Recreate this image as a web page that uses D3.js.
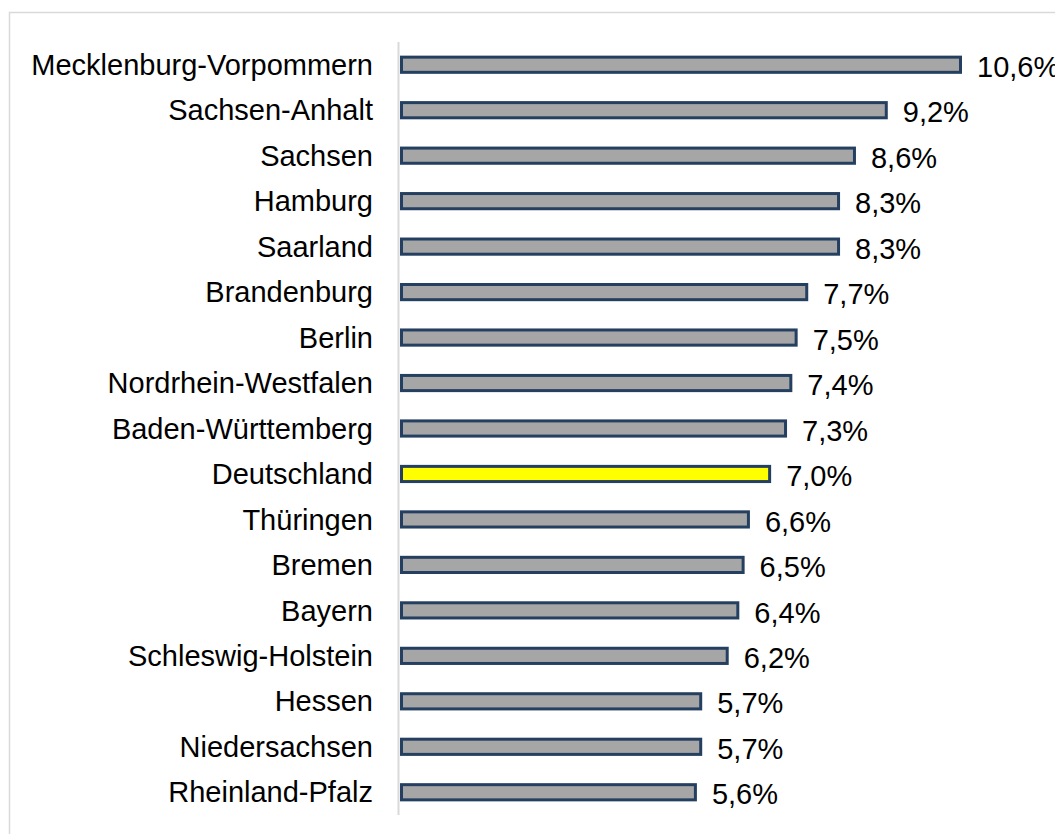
<!DOCTYPE html>
<html><head><meta charset="utf-8">
<script src="https://cdn.jsdelivr.net/npm/d3@7"></script>
<style>body{margin:0;background:#fff}svg{display:block}</style>
</head><body><svg id="c" width="1055" height="834"></svg>
<script>
const categories = ["Mecklenburg-Vorpommern","Sachsen-Anhalt","Sachsen","Hamburg","Saarland","Brandenburg","Berlin","Nordrhein-Westfalen","Baden-Württemberg","Deutschland","Thüringen","Bremen","Bayern","Schleswig-Holstein","Hessen","Niedersachsen","Rheinland-Pfalz"];
const values = [10.6,9.2,8.6,8.3,8.3,7.7,7.5,7.4,7.3,7.0,6.6,6.5,6.4,6.2,5.7,5.7,5.6];
const highlight = "Deutschland";

const svg = d3.select("#c");
svg.append("rect").attr("x",9.5).attr("y",12.5).attr("width",1100).attr("height",900)
  .attr("fill","#fff").attr("stroke","#d9d9d9").attr("stroke-width",1.5);

const x = d3.scaleLinear().domain([0,10.6]).range([400,962]);
const y = d3.scaleBand().domain(categories).range([42,815]).paddingInner(0.6).paddingOuter(0.3);

svg.append("line").attr("x1",398.5).attr("x2",398.5).attr("y1",42).attr("y2",815)
  .attr("stroke","#d9d9d9").attr("stroke-width",2);

const data = categories.map((c,i)=>({c,v:values[i]}));
svg.selectAll("rect.bar").data(data).join("rect").attr("class","bar")
  .attr("x",x(0)+1.5).attr("y",d=>y(d.c)+1.5)
  .attr("width",d=>x(d.v)-x(0)-3).attr("height",y.bandwidth()-3)
  .attr("fill",d=>d.c===highlight?"#ffff00":"#a6a6a6")
  .attr("stroke","#243f60").attr("stroke-width",3);

svg.selectAll("text.cat").data(data).join("text").attr("class","cat")
  .attr("x",373).attr("y",d=>y(d.c)+y.bandwidth()/2).attr("dy","0.35em")
  .attr("text-anchor","end").attr("font-family","Liberation Sans, Arial, sans-serif")
  .attr("font-size",29).attr("fill","#000").text(d=>d.c);

svg.selectAll("text.val").data(data).join("text").attr("class","val")
  .attr("x",d=>x(d.v)+15).attr("y",d=>y(d.c)+y.bandwidth()/2+2).attr("dy","0.35em")
  .attr("font-family","Liberation Sans, Arial, sans-serif")
  .attr("font-size",29).attr("fill","#000").text(d=>d3.format(".1f")(d.v).replace(".",",")+"%");
</script></body></html>
